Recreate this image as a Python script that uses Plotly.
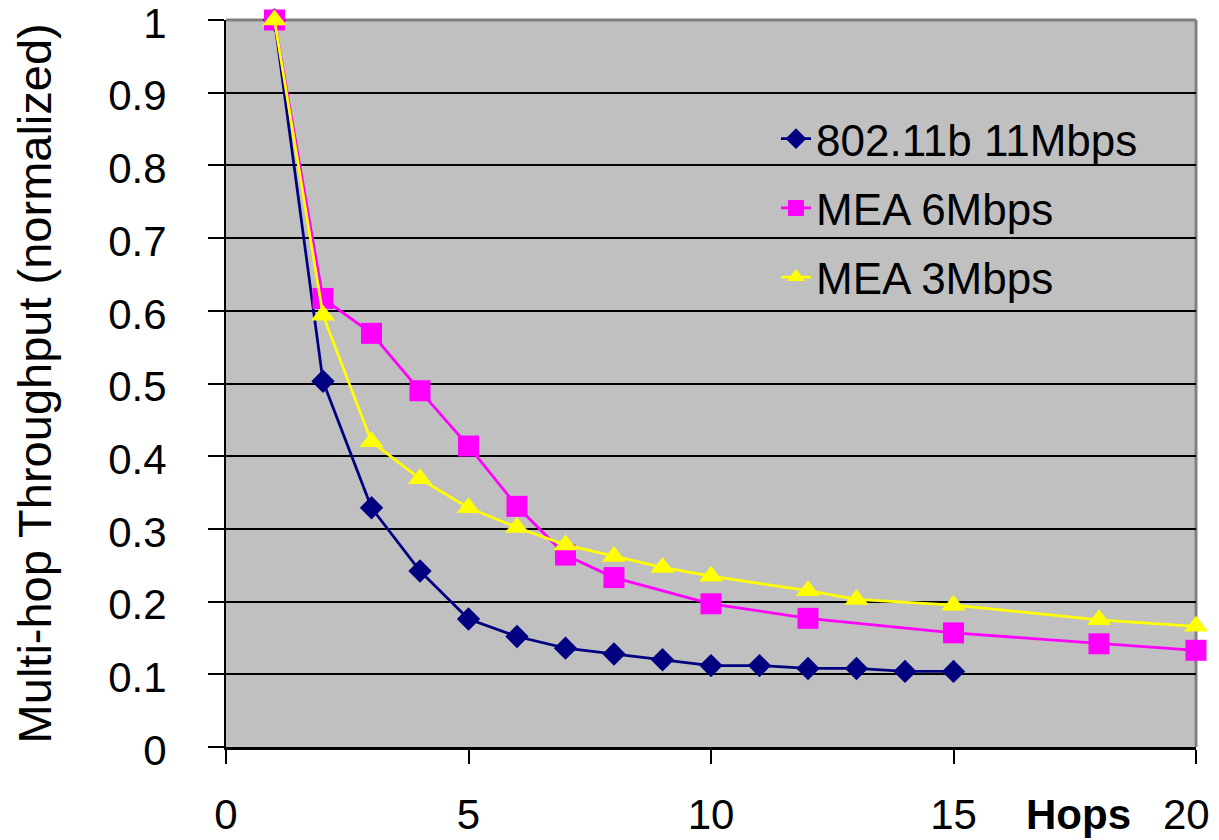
import plotly.graph_objects as go

# Data
hops_b = [1, 2, 3, 4, 5, 6, 7, 8, 9, 10, 11, 12, 13, 14, 15]
thr_b = [1.0, 0.503, 0.329, 0.242, 0.176, 0.152, 0.136, 0.128, 0.120, 0.112, 0.112, 0.108, 0.108, 0.104, 0.104]

hops_m6 = [1, 2, 3, 4, 5, 6, 7, 8, 10, 12, 15, 18, 20]
thr_m6 = [1.0, 0.617, 0.569, 0.490, 0.414, 0.331, 0.264, 0.233, 0.197, 0.177, 0.157, 0.142, 0.133]

hops_m3 = [1, 2, 3, 4, 5, 6, 7, 8, 9, 10, 12, 13, 15, 18, 20]
thr_m3 = [1.0, 0.594, 0.420, 0.369, 0.329, 0.302, 0.278, 0.262, 0.247, 0.235, 0.215, 0.203, 0.195, 0.175, 0.166]

names = ["802.11b 11Mbps", "MEA 6Mbps", "MEA 3Mbps"]
x_ticks = [0, 5, 10, 15, 20]
x_tick_text = ["0", "5", "10", "15", "20"]
y_ticks = [0, 0.1, 0.2, 0.3, 0.4, 0.5, 0.6, 0.7, 0.8, 0.9, 1]
y_tick_text = ["0", "0.1", "0.2", "0.3", "0.4", "0.5", "0.6", "0.7", "0.8", "0.9", "1"]

FONT = "Liberation Sans, Arial, sans-serif"

fig = go.Figure()
fig.add_trace(go.Scatter(
    x=hops_b, y=thr_b, name=names[0], mode="lines+markers", legendgroup="a",
    line=dict(color="#000080", width=2.75),
    marker=dict(symbol="diamond", size=18, color="#000080"),
    cliponaxis=False))
fig.add_trace(go.Scatter(
    x=hops_m6, y=thr_m6, name=names[1], mode="lines+markers", legendgroup="b",
    line=dict(color="#FF00FF", width=2.75),
    marker=dict(symbol="square", size=21, color="#FF00FF"),
    cliponaxis=False))
fig.add_trace(go.Scatter(
    x=hops_m3, y=thr_m3, name=names[2], mode="lines+markers", legendgroup="c",
    line=dict(color="#FFFF00", width=2.75),
    marker=dict(symbol="triangle-up", size=21, color="#FFFF00"),
    cliponaxis=False))

# last x tick label is drawn as an annotation so it can sit fully inside the picture
axis_ticktext = x_tick_text[:-1] + [""]

fig.update_layout(
    width=1219, height=840,
    margin=dict(l=218, r=31, t=12, b=101),
    paper_bgcolor="white", plot_bgcolor="#C0C0C0",
    font=dict(family=FONT, size=42, color="black"),
    showlegend=True,
    legend=dict(x=0.567, y=0.885, xanchor="left", yanchor="top",
                bgcolor="rgba(0,0,0,0)", borderwidth=0,
                font=dict(family=FONT, size=44, color="black"),
                tracegroupgap=9),
    xaxis=dict(range=[0, 20], tickvals=x_ticks, ticktext=axis_ticktext,
               showgrid=False, zeroline=False, showline=True, linecolor="black", linewidth=2.5,
               ticks="outside", ticklen=14, tickwidth=2, tickcolor="black",
               automargin=False, ticklabeloverflow="allow",
               ticklabelstandoff=15, tickfont=dict(family=FONT, size=42, color="black")),
    yaxis=dict(range=[0, 1], tickvals=y_ticks, ticktext=y_tick_text,
               showgrid=True, gridcolor="black", gridwidth=2, zeroline=False,
               showline=True, linecolor="black", linewidth=2,
               ticks="outside", ticklen=16, tickwidth=2, tickcolor="black",
               automargin=False, ticklabeloverflow="allow", ticklabelshift=3,
               ticklabelstandoff=33, tickfont=dict(family=FONT, size=42, color="black")),
    shapes=[
        dict(type="line", xref="paper", yref="paper", x0=0, x1=1, y0=1, y1=1,
             line=dict(color="#808080", width=3), layer="below"),
        dict(type="line", xref="paper", yref="paper", x0=1, x1=1, y0=0, y1=1,
             line=dict(color="#808080", width=3), layer="below"),
    ],
    annotations=[
        dict(text="Multi-hop Throughput (normalized)", xref="paper", yref="paper",
             x=-0.197, y=0.5, xanchor="center", yanchor="middle", textangle=-90,
             showarrow=False, font=dict(family=FONT, size=47, color="black")),
        dict(text="<b>Hops</b>", xref="paper", yref="paper",
             x=0.879, y=-0.0935, xanchor="center", yanchor="middle",
             showarrow=False, font=dict(family=FONT, size=42, color="black")),
        dict(text=x_tick_text[-1], xref="paper", yref="paper",
             x=0.9907, y=-0.0935, xanchor="center", yanchor="middle",
             showarrow=False, font=dict(family=FONT, size=42, color="black")),
    ],
)

fig.write_html("out.html")
